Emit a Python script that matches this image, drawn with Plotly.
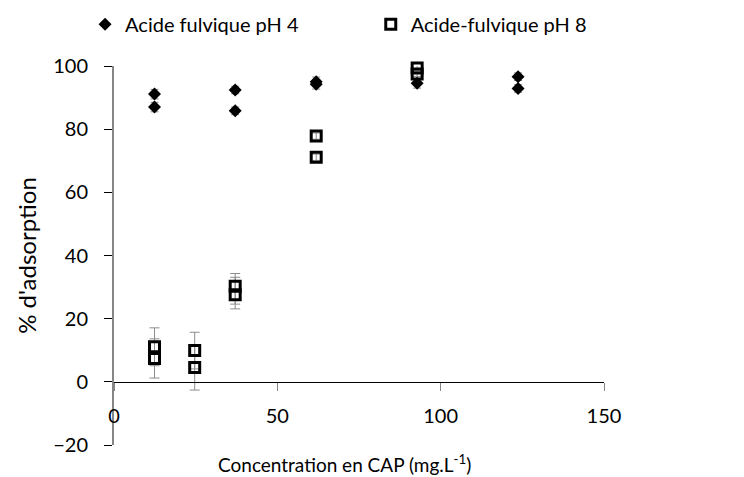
import plotly.graph_objects as go

# concentrations read against the axis as labelled
conc_ph4 = [12.4, 12.4, 37.1, 37.1, 61.9, 61.9, 92.8, 123.7, 123.7]
ads_ph4 = [91.1, 87.0, 92.4, 85.8, 95.0, 94.2, 94.5, 96.6, 92.9]
err_ph4 = [1.5, 1.5, 1.2, 1.2, 1.5, 1.5, 1.5, 1.2, 1.2]

conc_ph8 = [12.4, 12.4, 24.7, 24.7, 37.1, 37.1, 61.9, 61.9, 92.8, 92.8]
ads_ph8 = [11.1, 7.4, 9.9, 4.5, 30.3, 27.6, 77.8, 71.1, 99.4, 97.5]
err_ph8_plus = [6.0, 6.2, 5.8, 7.1, 4.0, 5.5, 1.0, 1.0, 0.8, 0.8]
err_ph8_minus = [6.0, 6.2, 5.8, 7.1, 5.7, 4.5, 1.0, 1.0, 0.8, 0.8]

font = "Lato"

fig = go.Figure()

fig.add_trace(go.Scatter(
    x=conc_ph4, y=ads_ph4, mode="markers", name="Acide fulvique pH 4",
    marker=dict(symbol="diamond", size=10, color="black"),
    error_y=dict(type="data", array=err_ph4, color="#8c8c8c", thickness=1, width=4),
    cliponaxis=False, legend="legend",
))

fig.add_trace(go.Scatter(
    x=conc_ph8, y=ads_ph8, mode="markers", name="Acide-fulvique pH 8",
    marker=dict(symbol="square-open", size=10, color="black", line=dict(width=3, color="black")),
    error_y=dict(type="data", array=err_ph8_plus, arrayminus=err_ph8_minus,
                 color="#8c8c8c", thickness=1, width=5),
    cliponaxis=False, legend="legend2",
))

leg = dict(orientation="h", y=1.11, yanchor="middle", xanchor="left",
           font=dict(size=20), itemwidth=30, bgcolor="rgba(0,0,0,0)")

fig.update_layout(
    width=744, height=477,
    margin=dict(l=114, r=140, t=66, b=32, autoexpand=False),
    plot_bgcolor="white", paper_bgcolor="white",
    font=dict(family=font, size=20, color="black"),
    showlegend=True,
    legend=dict(leg, x=-0.059),
    legend2=dict(leg, x=0.524),
)

fig.update_xaxes(
    range=[0, 150], tickvals=[0, 50, 100, 150], showgrid=False, zeroline=False,
    showline=True, linecolor="black", linewidth=1,
    ticks="outside", ticklen=8, tickcolor="#868686", ticklabelstandoff=8,
    anchor="free", position=20 / 120,
)
fig.update_yaxes(
    range=[-20, 100], dtick=20, showgrid=False, zeroline=False,
    showline=True, linecolor="#868686", linewidth=2,
    ticks="outside", ticklen=8, tickcolor="black", ticklabelstandoff=12,
    title=dict(text="% d'adsorption", standoff=10),
)

fig.add_annotation(
    text="Concentration en CAP (mg.L<sup>-1</sup>)", xref="paper", yref="paper",
    x=0.47, y=-0.05, xanchor="center", yanchor="middle", showarrow=False,
    font=dict(size=19),
)

fig.write_html("out.html", config={"displayModeBar": False},
               post_script="document.body.style.margin='0';")
